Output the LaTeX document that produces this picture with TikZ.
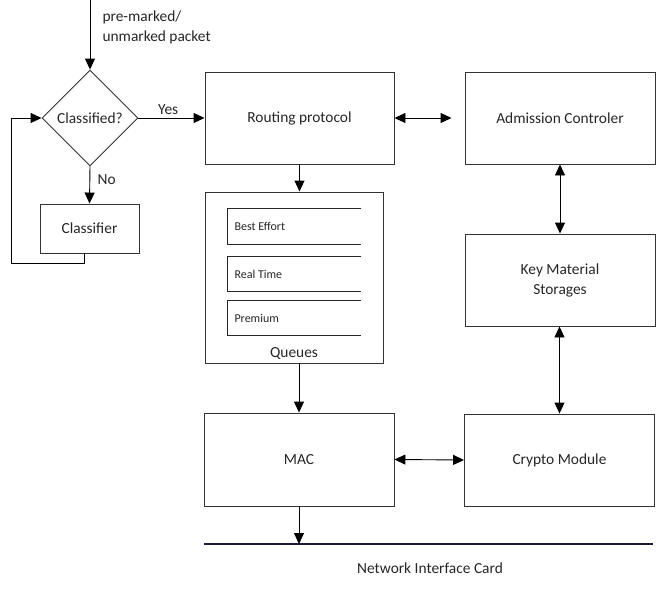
\documentclass[tikz,border=0pt]{standalone}
\usepackage{fontspec}
\setmainfont{Carlito}
\usetikzlibrary{arrows.meta,shapes.geometric}
\begin{document}
\begin{tikzpicture}[x=1pt,y=-1pt,
  font=\fontsize{15.4}{20}\selectfont,
  box/.style={draw=black!80,line width=0.9pt,rectangle,inner sep=0pt,text=black!85},
  arr/.style={line width=0.9pt,-{Triangle[length=11pt,width=10pt]}},
  darr/.style={line width=0.9pt,{Triangle[length=11pt,width=10pt]}-{Triangle[length=11pt,width=10pt]}},
  qbox/.style={rectangle,inner sep=0pt,minimum width=134pt,minimum height=35pt,anchor=west},
  qtxt/.style={font=\fontsize{12}{14}\selectfont,anchor=west,text=black!85},
  lbl/.style={text=black!85}]
\useasboundingbox (0,0) rectangle (657,589);

% nodes
\node[draw=black!80,line width=0.9pt,diamond,aspect=1,inner sep=0pt,minimum width=96pt,minimum height=96pt,text=black!85] (dia) at (90,118) {Classified?};
\node[box,minimum width=99pt,minimum height=49pt] (cls) at (89.5,228.5) {Classifier};
\node[box,minimum width=189pt,minimum height=92pt] (rout) at (299.5,118) {Routing protocol};
\node[box,minimum width=178pt,minimum height=171pt] (que) at (294,277.5) {};
\node[lbl] (qlab) at (294,354) {Queues};
\node[qbox] (q1) at (227,226.5) {};
\node[qbox] (q2) at (227,274) {};
\node[qbox] (q3) at (227,318) {};
\node[qtxt] (t1) at (231,226.5) {Best Effort};
\node[qtxt] (t2) at (231,274) {Real Time};
\node[qtxt] (t3) at (231,318) {Premium};
\node[box,minimum width=190pt,minimum height=93pt] (mac) at (299,459.5) {MAC};
\node[box,minimum width=190pt,minimum height=92pt] (adm) at (560,118) {Admission Controler};
\node[box,minimum width=190pt,minimum height=92pt,align=center] (key) at (560,280) {Key Material\\Storages};
\node[box,minimum width=190pt,minimum height=92pt] (cry) at (559.5,460) {Crypto Module};

\coordinate (start) at (90,0);
\coordinate (nicL) at (204,544);
\coordinate (nicR) at (653,544);
\node[lbl,align=left,anchor=west] (pkt) at (99,27) {pre-marked/\\unmarked packet};
\node[lbl] (nic) at (430,568) {Network Interface Card};

% queue boxes (open right side)
\foreach \q in {q1,q2,q3}
  \draw[black!85,line width=0.9pt] (\q.north east) -- (\q.north west) -- (\q.south west) -- (\q.south east);

% connectors
\draw[arr] (start) -- (dia.north);
\draw[arr] (dia.east) -- node[lbl,above,pos=0.45] (yes) {Yes} (rout.west);
\draw[arr] (dia.south) -- node[lbl,right,pos=0.35,xshift=4pt] (no) {No} (cls.north);
\draw[arr] ([xshift=-5.5pt]cls.south) -- ++(0,10) -| ([xshift=-30pt]dia.west) |- (dia.west);
\draw[arr] (rout.south) -- (rout.south |- que.north);
\draw[arr] (mac.north |- que.south) -- (mac.north);
\draw[darr] (rout.east) -- ([xshift=-13pt]adm.west);
\draw[darr] (adm.south) -- (key.north);
\draw[darr] (key.south -| cry.north) -- (cry.north);
\draw[darr] (mac.east) -- (cry.west);
\draw[arr] (mac.south) -- (mac.south |- nicL);
\draw[line width=1.4pt,color={rgb,255:red,30;green,26;blue,60}] (nicL) -- (nicR);
\end{tikzpicture}
\end{document}
